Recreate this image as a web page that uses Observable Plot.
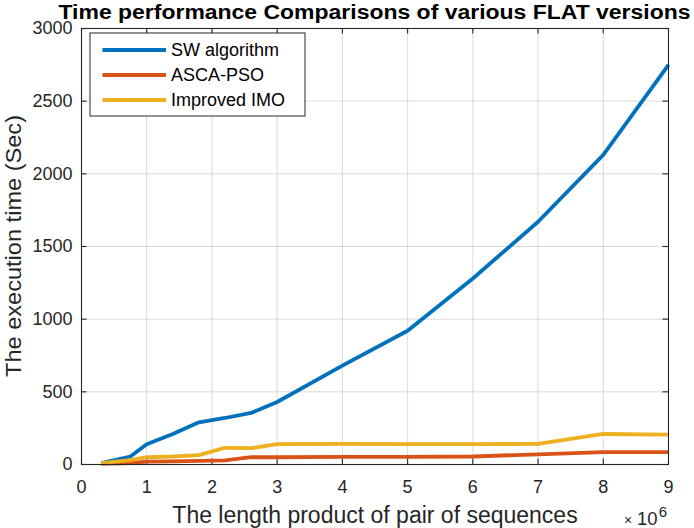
<!DOCTYPE html>
<html>
<head>
<meta charset="utf-8">
<script src="https://cdn.jsdelivr.net/npm/d3@7"></script>
<script src="https://cdn.jsdelivr.net/npm/@observablehq/plot@0.6"></script>
<style>
  html, body { margin: 0; padding: 0; background: #fff; }
  #chart { width: 694px; height: 528px; }
</style>
</head>
<body>
<div id="chart"></div>
<script>
// ---- data ----
const lengthProduct = [300000, 750000, 1000000, 1400000, 1800000, 2200000, 2600000, 3000000, 4000000, 5000000, 6000000, 7000000, 8000000, 9000000];
const swAlgorithm   = [10, 55, 140, 210, 290, 320, 355, 430, 680, 920, 1280, 1670, 2130, 2750];
const ascaPso       = [5, 10, 20, 22, 25, 28, 50, 50, 52, 52, 55, 70, 85, 85];
const improvedImo   = [10, 30, 50, 55, 65, 115, 112, 140, 142, 140, 140, 142, 210, 205];
const seriesNames   = ["SW algorithm", "ASCA-PSO", "Improved IMO"];
const seriesColors  = ["#0072BD", "#D95319", "#EDB120"];
const xTicks = [0, 1e6, 2e6, 3e6, 4e6, 5e6, 6e6, 7e6, 8e6, 9e6];
const yTicks = [0, 500, 1000, 1500, 2000, 2500, 3000];
const titleText = "Time performance Comparisons of various FLAT versions";
const xLabel = "The length product of pair of sequences";
const yLabel = "The execution time (Sec)";

const seriesValues = [swAlgorithm, ascaPso, improvedImo];
const rows = [];
seriesNames.forEach((name, i) => {
  lengthProduct.forEach((x, j) => rows.push({series: name, x, y: seriesValues[i][j]}));
});

const W = 694, H = 528;
const mL = 81, mR = 26, mT = 28, mB = 64;
const innerH = H - mT - mB, innerW = W - mL - mR;
const font = "'Liberation Sans', Arial, Helvetica, sans-serif";
const tickLen = 5.5;
const ink = "#262626";

const svg = Plot.plot({
  width: W, height: H,
  marginLeft: mL, marginRight: mR, marginTop: mT, marginBottom: mB,
  style: {fontFamily: font, fontSize: "18px", color: ink, background: "#fff"},
  x: {domain: [0, 9e6], ticks: xTicks},
  y: {domain: [0, 3000], ticks: yTicks},
  color: {domain: seriesNames, range: seriesColors},
  marks: [
    Plot.gridX(xTicks, {stroke: "#000", strokeOpacity: 0.14, strokeWidth: 1}),
    Plot.gridY(yTicks, {stroke: "#000", strokeOpacity: 0.14, strokeWidth: 1}),
    Plot.axisX(xTicks, {tickSize: 0, tickPadding: 16, tickFormat: d => String(d / 1e6), fontSize: 18, fill: ink, label: null}),
    Plot.axisY(yTicks, {tickSize: 0, tickPadding: 9, tickFormat: d => String(d), fontSize: 18, fill: ink, label: null}),
    // inward ticks on all four sides
    Plot.tickX(xTicks, {x: d => d, insetTop: innerH - tickLen, stroke: ink, strokeWidth: 1.1}),
    Plot.tickX(xTicks, {x: d => d, insetBottom: innerH - tickLen, stroke: ink, strokeWidth: 1.1}),
    Plot.tickY(yTicks, {y: d => d, insetRight: innerW - tickLen, stroke: ink, strokeWidth: 1.1}),
    Plot.tickY(yTicks, {y: d => d, insetLeft: innerW - tickLen, stroke: ink, strokeWidth: 1.1}),
    Plot.line(rows, {x: "x", y: "y", z: "series", stroke: "series", strokeWidth: 3.8, strokeLinejoin: "round", strokeLinecap: "butt"}),
    Plot.frame({stroke: ink, strokeWidth: 1.1}),
    Plot.text([xLabel], {frameAnchor: "bottom", lineAnchor: "bottom", dy: 58.5, fontSize: 23, fill: ink})
  ]
});

const s = d3.select(svg);

// title, stretched to the reference's width
s.append("text")
  .attr("x", mL + innerW / 2).attr("y", 18.5)
  .attr("text-anchor", "middle")
  .attr("font-family", font).attr("font-size", 20).attr("font-weight", "bold").attr("fill", "#000")
  .attr("textLength", 632).attr("lengthAdjust", "spacingAndGlyphs")
  .text(titleText);

// y-axis label
s.append("text")
  .attr("transform", `translate(21,${mT + innerH / 2}) rotate(-90)`)
  .attr("text-anchor", "middle")
  .attr("font-family", font).attr("font-size", 22).attr("fill", ink)
  .attr("textLength", 262).attr("lengthAdjust", "spacingAndGlyphs")
  .text(yLabel);

// ×10^6 exponent label
const exp = s.append("text")
  .attr("x", W - 27).attr("y", H - 3)
  .attr("text-anchor", "end")
  .attr("font-family", font).attr("font-size", 18).attr("fill", ink);
exp.append("tspan").attr("font-size", 14).text("×");
exp.append("tspan").attr("dx", 5).attr("font-size", 18.5).text("10");
exp.append("tspan").attr("dx", 1).attr("dy", -8).attr("font-size", 15).text("6");

// legend
const lg = s.append("g").attr("transform", `translate(${mL + 9},${mT + 5})`);
lg.append("rect").attr("width", 215).attr("height", 83)
  .attr("fill", "#fff").attr("stroke", ink).attr("stroke-width", 1);
seriesNames.forEach((name, i) => {
  const yy = 17 + i * 25;
  lg.append("line").attr("x1", 12.5).attr("x2", 76).attr("y1", yy).attr("y2", yy)
    .attr("stroke", seriesColors[i]).attr("stroke-width", 3.8);
  lg.append("text").attr("x", 81).attr("y", yy).attr("dy", "0.35em")
    .attr("text-anchor", "start")
    .attr("font-family", font).attr("font-size", 18).attr("fill", "#000").text(name);
});

document.getElementById("chart").appendChild(svg);
</script>
</body>
</html>
